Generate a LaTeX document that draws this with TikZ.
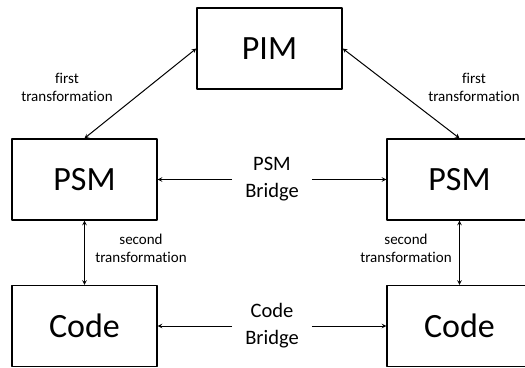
\documentclass[tikz,border=0pt]{standalone}
\usepackage{fontspec}
\setmainfont[Ligatures=NoCommon]{Carlito}
\begin{document}
\begin{tikzpicture}[x=1pt, y=-1pt, line join=round, >=stealth,
		model/.style={draw, line width=1.4pt, minimum width=145pt, minimum height=81pt, inner sep=0pt, font=\fontsize{34}{40}\selectfont},
		note/.style={align=center, inner sep=0pt, font=\fontsize{15}{18}\selectfont},
		bridge/.style={align=center, inner xsep=13pt, inner ysep=0pt, font=\fontsize{20.5}{27}\selectfont},
		link/.style={<->, line width=1pt}]
	\useasboundingbox (0,0) rectangle (525,367);
	\node[model] (pim) at (269.5,48.5) {PIM};
	\node[model] (psmL) at (84.5,179.5) {PSM};
	\node[model] (psmR) at (459.5,179.5) {PSM};
	\node[model] (codeL) at (84.5,326) {Code};
	\node[model] (codeR) at (459.5,326) {Code};
	\node[bridge] (psmbr) at (272,179.5) {PSM\\Bridge};
	\node[bridge] (codebr) at (272,326) {Code\\Bridge};
	\node[note] (ftL) at (67,87) {first\\transformation};
	\node[note] (ftR) at (474,87) {first\\transformation};
	\node[note] (stL) at (141,248) {second\\transformation};
	\node[note] (stR) at (406,248) {second\\transformation};
	\draw[link] (pim.west) -- (psmL.north);
	\draw[link] (pim.east) -- (psmR.north);
	\draw[link] (psmL.south) -- (codeL.north);
	\draw[link] (psmR.south) -- (codeR.north);
	\draw[->, line width=1pt] (psmbr.west) -- (psmL.east);
	\draw[->, line width=1pt] (psmbr.east) -- (psmR.west);
	\draw[->, line width=1pt] (codebr.west) -- (codeL.east);
	\draw[->, line width=1pt] (codebr.east) -- (codeR.west);
\end{tikzpicture}
\end{document}
